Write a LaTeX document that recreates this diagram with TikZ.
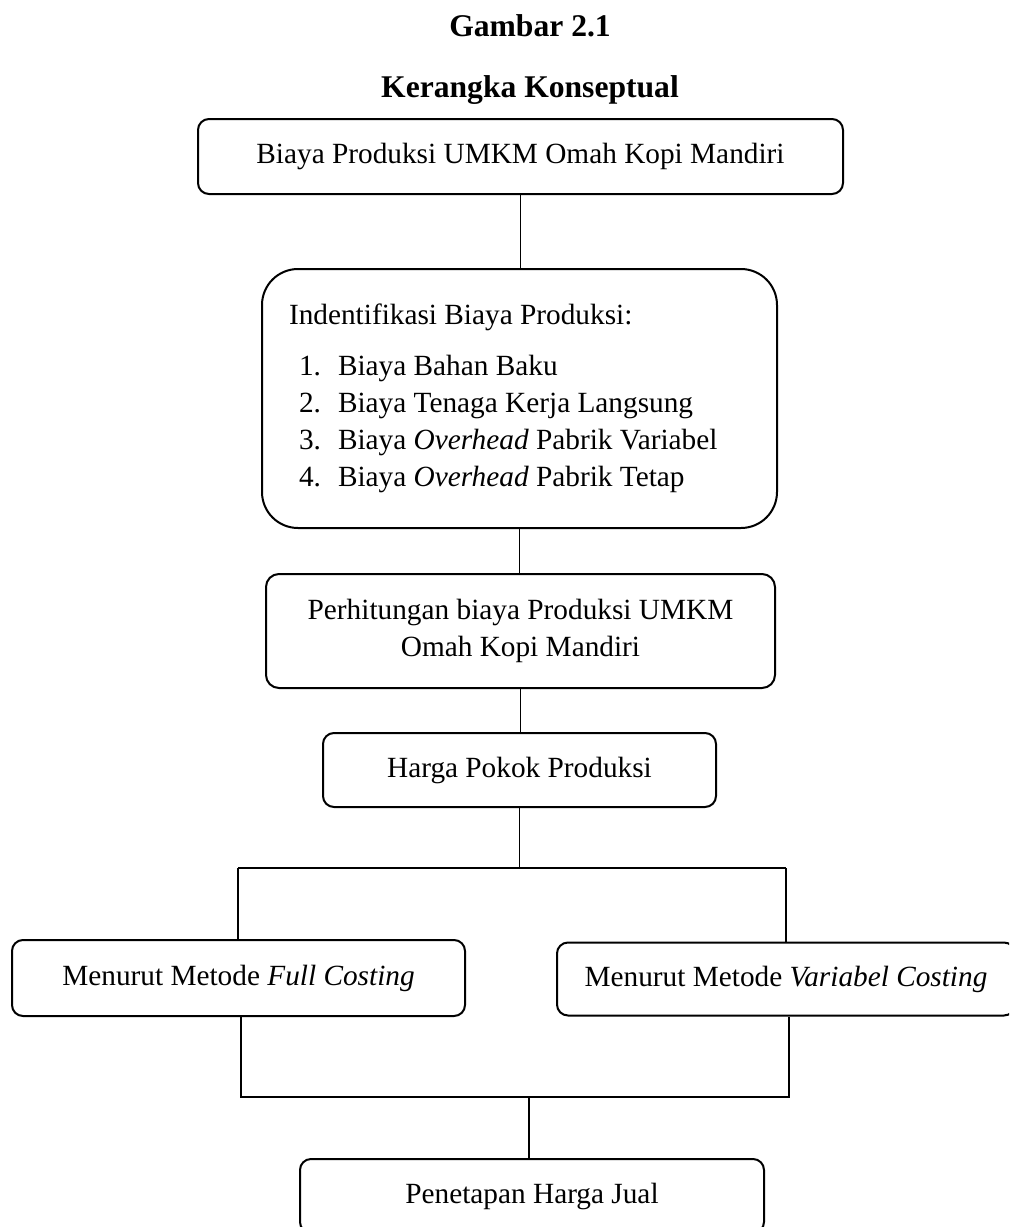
\documentclass[tikz,border=0pt]{standalone}
\usepackage{fontspec}
\setmainfont{Liberation Serif}
\newcommand\bodyfont{\fontsize{14.65pt}{18.5pt}\selectfont}
\newcommand\titlefont{\fontsize{15.8pt}{19pt}\selectfont\bfseries}
\tikzset{
  box/.style={draw, line width=1pt, rounded corners=5.5pt, inner sep=0pt,
    align=center, font=\bodyfont},
  title/.style={inner sep=0pt, font=\titlefont},
  conn/.style={line width=0.7pt}
}
\begin{document}
\begin{tikzpicture}[x=0.5pt, y=-0.5pt]
\useasboundingbox (0,0) rectangle (1009,1227);
\clip (0,0) rectangle (1009,1227);

\node[title] (t1) at (530,26) {Gambar 2.1};
\node[title] (t2) at (530,90) {Kerangka Konseptual};

\node[box, minimum width=322.5pt, minimum height=37.5pt] (b1) at (520.5,156.5)
  {Biaya Produksi UMKM Omah Kopi Mandiri};

\node[box, rounded corners=18pt, minimum width=257.5pt, minimum height=129.5pt,
  text width=230.5pt, align=flush left] (b2) at (519.5,398.5)
  {Indentifikasi Biaya Produksi:\\[7pt]
   \hspace*{5pt}\makebox[19.5pt][l]{1.}Biaya Bahan Baku\\
   \hspace*{5pt}\makebox[19.5pt][l]{2.}Biaya Tenaga Kerja Langsung\\
   \hspace*{5pt}\makebox[19.5pt][l]{3.}Biaya \textit{Overhead} Pabrik Variabel\\
   \hspace*{5pt}\makebox[19.5pt][l]{4.}Biaya \textit{Overhead} Pabrik Tetap};

\node[box, rounded corners=6.5pt, minimum width=254.5pt, minimum height=57pt] (b3) at (520.5,631)
  {Perhitungan biaya Produksi UMKM\\Omah Kopi Mandiri};

\node[box, minimum width=196.5pt, minimum height=37pt] (b4) at (519.5,770)
  {Harga Pokok Produksi};

\node[box, minimum width=226.5pt, minimum height=38pt] (b5) at (238.5,978)
  {Menurut Metode \textit{Full Costing}};

\node[box, minimum width=229pt, minimum height=36.5pt] (b6) at (786,979)
  {Menurut Metode \textit{Variabel Costing}};

\node[box, minimum width=232pt, minimum height=37pt] (b7) at (532,1196)
  {Penetapan Harga Jual};

\coordinate (forkL) at (238,868);
\coordinate (forkR) at (786,868);
\coordinate (joinL) at (241,1097);
\coordinate (joinR) at (789,1097);
\coordinate (joinM) at (529,1097);

\draw[conn] (b1.south) -- (b1.south |- b2.north);
\draw[conn] (b2.south) -- (b2.south |- b3.north);
\draw[conn] (b3.south) -- (b3.south |- b4.north);
\draw[conn] (b4.south) -- (b4.south |- forkL);
\draw[conn] (forkL) -- (forkR);
\draw[conn] (forkL) -- (forkL |- b5.north);
\draw[conn] (forkR) -- (forkR |- b6.north);
\draw[conn] (joinL |- b5.south) -- (joinL) -- (joinR) -- (joinR |- b6.south);
\draw[conn] (joinM) -- (joinM |- b7.north);
\end{tikzpicture}
\end{document}
